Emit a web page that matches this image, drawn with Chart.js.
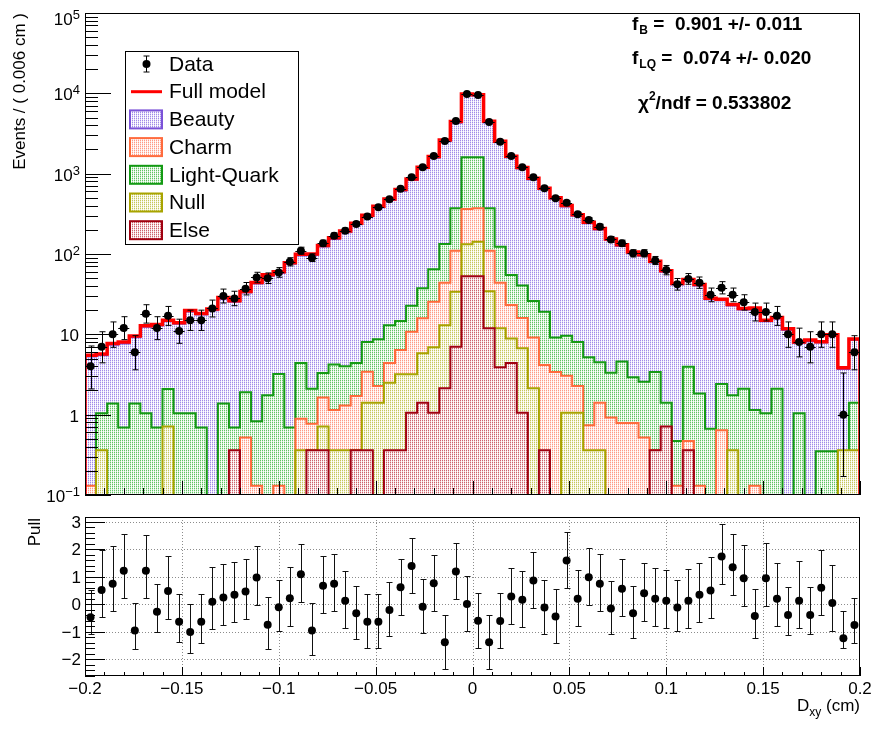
<!DOCTYPE html>
<html>
<head>
<meta charset="utf-8">
<script src="https://cdn.jsdelivr.net/npm/chart.js@4.4.1/dist/chart.umd.min.js"></script>
<style>
  html, body { margin: 0; padding: 0; background: #fff; }
  #wrap { position: relative; width: 874px; height: 734px; }
  #top { position: absolute; left: 0; top: 0; }
  #bot { position: absolute; left: 0; top: 505px; }
</style>
</head>
<body>
<div id="wrap">
  <canvas id="top" width="874" height="505"></canvas>
  <canvas id="bot" width="874" height="229"></canvas>
</div>
<script>
// binning of D_xy
var xMin = -0.2, xMax = 0.2, nBins = 70;

// observed events per bin
var dataCounts = [4, 7, 10, 12, 6, 18, 12, 17, 11, 15,
  15, 21, 30, 28, 37, 51, 50, 59, 80, 110,
  90, 136, 169, 195, 237, 292, 381, 480, 650, 901,
  1200, 1660, 2550, 4530, 9820, 9530, 4390, 2500, 1660, 1200,
  900, 657, 493, 435, 312, 265, 219, 152, 136, 102,
  102, 83, 63, 42, 49, 44, 31, 38, 31, 25,
  19, 19, 17, 10, 8, 7, 10, 10, 1, 6];
var dataErrLo = [1.91, 2.58, 3.11, 3.41, 2.38, 4.20, 3.41, 4.08, 3.27, 3.82,
  3.82, 4.55, 5.45, 5.26, 6.06, 7.12, 7.05, 7.66, 8.93, 10.5,
  9.48, 11.7, 13.0, 14.0, 15.4, 17.1, 19.5, 21.9, 25.5, 30.0,
  34.6, 40.7, 50.5, 67.3, 99.1, 97.6, 66.3, 50.0, 40.7, 34.6,
  30.0, 25.6, 22.2, 20.9, 17.7, 16.3, 14.8, 12.3, 11.7, 10.1,
  10.1, 9.10, 7.92, 6.46, 6.98, 6.61, 5.54, 6.14, 5.54, 4.97,
  4.32, 4.32, 4.08, 3.11, 2.76, 2.58, 3.11, 3.11, 0.83, 2.38];
var dataErrHi = [3.16, 3.77, 4.27, 4.58, 3.62, 5.36, 4.58, 5.24, 4.44, 4.99,
  4.99, 5.69, 6.58, 6.39, 7.17, 8.20, 8.13, 8.73, 9.98, 11.5,
  10.5, 12.7, 14.0, 15.0, 16.4, 18.1, 20.5, 22.9, 26.5, 31.0,
  35.6, 41.7, 51.5, 68.3, 100.1, 98.6, 67.3, 51.0, 41.7, 35.6,
  31.0, 26.6, 23.2, 21.9, 18.7, 17.3, 15.8, 13.3, 12.7, 11.1,
  11.1, 10.15, 8.98, 7.56, 8.06, 7.71, 6.67, 7.25, 6.67, 6.10,
  5.48, 5.48, 5.24, 4.27, 3.94, 3.77, 4.27, 4.27, 2.30, 3.62];

// fit model and its components
var modelVals = [5.5, 5.7, 7.7, 8.0, 9.5, 12.8, 13.3, 15.0, 13.9, 19.8,
  18.2, 20.6, 28.7, 26.2, 34.2, 44.2, 55, 60, 78, 99,
  100, 128, 159, 193, 242, 304, 394, 485, 634, 860,
  1203, 1630, 2620, 4450, 9820, 9590, 4480, 2530, 1650, 1195,
  875, 660, 503, 402, 308, 249, 208, 154, 130, 105.6,
  98, 81, 62, 43, 48, 41.8, 28.2, 27.4, 23.6, 21,
  21.3, 15, 16.2, 11.7, 8, 8.5, 8.1, 9.9, 3.85, 8.75];
var beautyVals = [5.3, 5.5, 7.4, 7.7, 9.2, 12.4, 12.9, 14.5, 13.5, 19.2,
  17.6, 20, 27.8, 25.4, 33.2, 42.9, 53.4, 58.2, 75.7, 96,
  97, 124, 154, 187, 235, 295, 382, 470, 615, 834,
  1167, 1581, 2541, 4316, 9525, 9302, 4346, 2454, 1600, 1159,
  849, 640, 488, 390, 299, 241.5, 202, 149.4, 126, 102.4,
  95, 78.6, 60.1, 41.7, 46.6, 40.5, 27.4, 26.6, 22.9, 20.4,
  20.7, 14.6, 15.7, 11.3, 7.8, 8.2, 7.9, 9.6, 3.7, 8.5];
var charmVals = [0.13, 0, 0, 0, 0, 0, 0, 0, 0, 0,
  0, 0, 0, 0, 0.52, 0.13, 0, 0.13, 0, 0.89,
  0.77, 1.63, 1.14, 1.3, 1.71, 3.43, 2.28, 4.4, 6.4, 10.8,
  15.9, 25.5, 44, 110, 363, 370, 110, 44, 23.2, 16,
  9.1, 4.15, 3.4, 3.06, 2.28, 0.74, 1.41, 0.92, 0.79, 0.79,
  0.52, 0.36, 0.36, 0.13, 0.47, 0.13, 0, 0.64, 0, 0,
  0.13, 0, 0, 0, 0, 0, 0, 0, 0, 0];
var lightQuarkVals = [0, 1.04, 1.38, 0.69, 1.38, 1.04, 0.69, 2.08, 1.04, 1.04,
  0.69, 0, 1.38, 0.69, 1.9, 0.83, 1.74, 3.2, 0.69, 4.4,
  2.1, 3.3, 4.2, 4.0, 4.4, 8.0, 8.7, 13, 14.7, 22.7,
  37.4, 64.6, 133, 371, 1600, 1600, 371, 123, 54.8, 40.4,
  26, 19.1, 9.1, 9.6, 8.0, 5.2, 4.5, 3.33, 4.6, 2.92,
  2.57, 3.4, 1.41, 0.47, 3.96, 1.84, 0.67, 2.41, 1.74, 2.1,
  1.14, 1.04, 2.1, 0, 1.04, 0, 0.35, 0.35, 0.35, 1.41];
var nullVals = [0, 0.36, 0, 0, 0, 0, 0, 0.71, 0, 0,
  0, 0, 0, 0, 0, 0, 0, 0, 0, 0.36,
  0.36, 0.71, 0.36, 0.36, 0.36, 1.41, 1.41, 2.5, 3.18, 3.18,
  5.8, 6.9, 13, 34, 132, 142, 34.5, 11.9, 8.9, 6.7,
  2.13, 0, 0, 1.06, 1.06, 0.36, 0.36, 0, 0, 0,
  0, 0, 0, 0, 0, 0, 0, 0, 0.36, 0,
  0, 0, 0, 0, 0, 0, 0, 0, 0.36, 0.36];
var elseVals = [0, 0, 0, 0, 0, 0, 0, 0, 0, 0,
  0, 0, 0, 0.36, 0, 0, 0, 0, 0, 0,
  0.36, 0.36, 0, 0, 0.36, 0.36, 0, 0.36, 0.36, 1.06,
  1.41, 1.06, 2.13, 7.0, 53, 53, 11.9, 3.9, 4.4, 1.06,
  0, 0.36, 0, 0, 0, 0, 0, 0, 0, 0,
  0, 0.36, 0.71, 0, 0.36, 0, 0, 0, 0, 0,
  0, 0, 0, 0, 0, 0, 0, 0, 0, 0];

// pull panel
var pullVals = [-0.47, 0.52, 0.74, 1.22, -0.96, 1.22, -0.27, 0.48, -0.64, -1.01,
  -0.64, 0.09, 0.24, 0.34, 0.46, 0.97, -0.75, -0.11, 0.22, 1.09,
  -0.96, 0.67, 0.74, 0.13, -0.33, -0.64, -0.64, -0.21, 0.62, 1.39,
  -0.09, 0.76, -1.38, 1.19, 0.01, -0.6, -1.38, -0.61, 0.28, 0.16,
  0.86, -0.12, -0.45, 1.59, 0.2, 0.98, 0.74, -0.16, 0.56, -0.33,
  0.4, 0.2, 0.13, -0.12, 0.13, 0.34, 0.5, 1.73, 1.34, 0.94,
  -0.43, 0.94, 0.2, -0.39, 0.13, -0.39, 0.6, 0.04, -1.24, -0.76];
var pullErrUp = [1, 1.46, 1.37, 1.34, 1, 1.28, 1, 1.28, 1, 1,
  1, 1.25, 1.21, 1.21, 1.18, 1.15, 1, 1, 1.12, 1.10,
  1, 1.09, 1.08, 1.07, 1, 1, 1, 1, 1.04, 1.03,
  1, 1.02, 1, 1.02, 1.01, 1, 1, 1, 1.02, 1.03,
  1.03, 1, 1, 1.05, 1.06, 1.06, 1.07, 1, 1.09, 1,
  1.10, 1.11, 1.13, 1, 1.15, 1.17, 1.20, 1.18, 1.20, 1.23,
  1, 1.27, 1.28, 1, 1.43, 1, 1.37, 1.37, 1, 1];
var pullErrDown = [0.60, 1, 1, 1, 0.66, 1, 0.74, 1, 0.74, 0.77,
  0.77, 1, 1, 1, 1, 1, 0.87, 0.88, 1, 1,
  0.90, 1, 1, 1, 0.94, 0.94, 0.95, 0.96, 1, 1,
  0.97, 1, 0.98, 1, 1, 0.99, 0.98, 0.98, 1, 1,
  1, 0.96, 0.96, 1, 1, 1, 1, 0.92, 1, 0.91,
  1, 1, 1, 0.86, 1, 1, 1, 1, 1, 1,
  0.79, 1, 1, 0.73, 1, 0.68, 1, 1, 0.36, 0.66];

// axis ticks and labels
var yDecades = [-1, 0, 1, 2, 3, 4, 5];
var xTickLabels = ['\u22120.2', '\u22120.15', '\u22120.1', '\u22120.05', '0', '0.05', '0.1', '0.15', '0.2'];
var xTickVals = [-0.2, -0.15, -0.1, -0.05, 0, 0.05, 0.1, 0.15, 0.2];
var pullTicks = [3, 2, 1, 0, -1, -2];
var pullTickLabels = ['3', '2', '1', '0', '\u22121', '\u22122'];

var FONT = '"Liberation Sans", Arial, Helvetica, sans-serif';
var FLOOR = 1e-4;
var binW = (xMax - xMin) / nBins;

function edge(i) { return xMin + i * binW; }

function histPoints(vals) {
  var pts = [{ x: xMin, y: FLOOR }];
  vals.forEach(function (v, i) {
    var y = v > 0 ? v : FLOOR;
    pts.push({ x: edge(i), y: y });
    pts.push({ x: edge(i + 1), y: y });
  });
  pts.push({ x: xMax, y: FLOOR });
  return pts;
}

function mix(c, t) {
  return 'rgb(' + c.map(function (v) { return Math.round(v + (255 - v) * t); }).join(',') + ')';
}

// ROOT-like dotted fill: same 2x2 grid for all, so the top one wins
function makePattern(c) {
  var p = document.createElement('canvas');
  p.width = 2; p.height = 2;
  var g = p.getContext('2d');
  g.fillStyle = '#fff'; g.fillRect(0, 0, 2, 2);
  g.fillStyle = mix(c, 0.3); g.fillRect(0, 0, 1, 1);
  g.fillStyle = mix(c, 0.75); g.fillRect(0, 1, 1, 1);
  g.fillStyle = mix(c, 0.93); g.fillRect(1, 0, 1, 1);
  return g.createPattern(p, 'repeat');
}

var comps = [
  { label: 'Beauty', vals: beautyVals, line: '#7b52d8', fill: [120, 88, 222] },
  { label: 'Charm', vals: charmVals, line: '#ff6b3d', fill: [255, 110, 80] },
  { label: 'Light-Quark', vals: lightQuarkVals, line: '#149a14', fill: [30, 170, 30] },
  { label: 'Null', vals: nullVals, line: '#a8a400', fill: [175, 175, 20] },
  { label: 'Else', vals: elseVals, line: '#a00010', fill: [185, 30, 45] }
];
comps.forEach(function (c) { c.pattern = makePattern(c.fill); });

// draw order: beauty (bottom), LQ, charm, null, else, model, data (top)
var drawOrder = { 'Beauty': 6, 'Light-Quark': 5, 'Charm': 4, 'Null': 3, 'Else': 2 };

var topDatasets = comps.map(function (c) {
  return {
    label: c.label, data: histPoints(c.vals), borderColor: c.line, borderWidth: 2,
    backgroundColor: c.pattern, fill: 'start', pointRadius: 0, tension: 0,
    order: drawOrder[c.label], clip: 0, borderJoinStyle: 'miter'
  };
});
topDatasets.push({
  label: 'Full model', data: histPoints(modelVals), borderColor: '#ff0000', borderWidth: 3.5,
  fill: false, pointRadius: 0, tension: 0, order: 1, clip: 0, borderJoinStyle: 'miter'
});
topDatasets.push({
  label: 'Data', data: dataCounts.map(function (v, i) { return { x: edge(i) + binW / 2, y: v }; }),
  showLine: false, pointRadius: 4, pointBackgroundColor: '#000', pointBorderWidth: 0, order: 0
});

function topOverlay(chart) {
  var ctx = chart.ctx, a = chart.chartArea, sx = chart.scales.x, sy = chart.scales.y;
  ctx.save();
  // data error bars
  ctx.strokeStyle = '#000'; ctx.lineWidth = 1;
  ctx.beginPath();
  dataCounts.forEach(function (v, i) {
    var xc = Math.round(sx.getPixelForValue(edge(i) + binW / 2)) + 0.5;
    var yc = sy.getPixelForValue(v);
    var lo = v - dataErrLo[i];
    var y0 = lo > 0.1 ? sy.getPixelForValue(lo) : a.bottom;
    var y1 = sy.getPixelForValue(v + dataErrHi[i]);
    ctx.moveTo(xc, y0); ctx.lineTo(xc, y1);
    if (lo > 0.1) { ctx.moveTo(xc - 3, y0); ctx.lineTo(xc + 3, y0); }
    ctx.moveTo(xc - 3, y1); ctx.lineTo(xc + 3, y1);
    var yh = Math.round(yc) + 0.5;
    ctx.moveTo(sx.getPixelForValue(edge(i)), yh); ctx.lineTo(sx.getPixelForValue(edge(i + 1)), yh);
  });
  ctx.stroke();

  // ticks
  ctx.beginPath();
  yDecades.forEach(function (d) {
    var yy = Math.round(sy.getPixelForValue(Math.pow(10, d))) + 0.5;
    ctx.moveTo(a.left, yy); ctx.lineTo(a.left + 26, yy);
    if (d < 5) {
      for (var m = 2; m <= 9; m++) {
        var ym = Math.round(sy.getPixelForValue(m * Math.pow(10, d))) + 0.5;
        ctx.moveTo(a.left, ym); ctx.lineTo(a.left + 13, ym);
      }
    }
  });
  for (var k = 0; k <= 40; k++) {
    var xx = Math.round(sx.getPixelForValue(xMin + k * 0.01)) + 0.5;
    ctx.moveTo(xx, a.bottom); ctx.lineTo(xx, a.bottom - (k % 5 === 0 ? 14 : 7));
  }
  ctx.stroke();
  ctx.strokeRect(a.left + 0.5, a.top + 0.5, a.right - a.left - 1, a.bottom - a.top - 1);

  // y labels
  ctx.fillStyle = '#000';
  ctx.textAlign = 'left';
  ctx.textBaseline = 'alphabetic';
  yDecades.forEach(function (d) {
    var yy = sy.getPixelForValue(Math.pow(10, d)) + (d === 5 ? 5 : 0);
    var base = d === 0 ? '1' : '10';
    var sup = (d === 0 || d === 1) ? '' : (d < 0 ? '\u2212' + (-d) : String(d));
    ctx.font = '17px ' + FONT;
    var bw = ctx.measureText(base).width;
    ctx.font = '13px ' + FONT;
    var sw = sup ? ctx.measureText(sup).width : 0;
    var right = sup ? 80 : 79;
    ctx.font = '17px ' + FONT;
    ctx.fillText(base, right - sw - bw, yy + 7);
    if (sup) { ctx.font = '13px ' + FONT; ctx.fillText(sup, right - sw, yy + 1); }
  });

  // y title
  ctx.save();
  ctx.translate(20, a.top);
  ctx.rotate(-Math.PI / 2);
  ctx.font = '17px ' + FONT;
  ctx.textAlign = 'right';
  ctx.textBaseline = 'middle';
  ctx.fillText('Events / ( 0.006 cm )', 0, 0);
  ctx.restore();

  // fit results
  ctx.font = 'bold 19px ' + FONT;
  ctx.textAlign = 'left';
  var tx = 632;
  ctx.fillText('f', tx, 30);
  var fw = ctx.measureText('f').width;
  ctx.font = 'bold 12px ' + FONT;
  ctx.fillText('B', tx + fw + 1, 34);
  var bw2 = ctx.measureText('B').width;
  ctx.font = 'bold 19px ' + FONT;
  ctx.fillText(' =  0.901 +/- 0.011', tx + fw + bw2 + 1, 30);

  ctx.fillText('f', tx, 64);
  ctx.font = 'bold 12px ' + FONT;
  ctx.fillText('LQ', tx + fw + 1, 68);
  var lqw = ctx.measureText('LQ').width;
  ctx.font = 'bold 19px ' + FONT;
  ctx.fillText(' =  0.074 +/- 0.020', tx + fw + lqw + 1, 64);

  ctx.fillText('\u03c7', 638, 109);
  var cw = ctx.measureText('\u03c7').width;
  ctx.font = 'bold 12px ' + FONT;
  ctx.fillText('2', 638 + cw, 100);
  var tw = ctx.measureText('2').width;
  ctx.font = 'bold 19px ' + FONT;
  ctx.fillText('/ndf = 0.533802', 638 + cw + tw, 109);

  // legend
  var lx = 125, ly = 51, lw = 174, lh = 194;
  ctx.fillStyle = '#fff';
  ctx.fillRect(lx, ly, lw, lh);
  ctx.strokeStyle = '#000'; ctx.lineWidth = 1;
  ctx.strokeRect(lx + 0.5, ly + 0.5, lw - 1, lh - 1);
  var rows = ['Data', 'Full model'].concat(comps.map(function (c) { return c.label; }));
  ctx.font = '21px ' + FONT;
  ctx.textBaseline = 'middle';
  rows.forEach(function (name, r) {
    var cy = 64 + r * 27.7;
    ctx.fillStyle = '#000';
    ctx.fillText(name, 169, cy + 1);
    if (name === 'Data') {
      ctx.beginPath();
      ctx.moveTo(146.5, cy - 8); ctx.lineTo(146.5, cy + 8);
      ctx.moveTo(143.5, cy - 8); ctx.lineTo(149.5, cy - 8);
      ctx.moveTo(143.5, cy + 8); ctx.lineTo(149.5, cy + 8);
      ctx.stroke();
      ctx.beginPath(); ctx.arc(146.5, cy, 4, 0, 2 * Math.PI); ctx.fill();
    } else if (name === 'Full model') {
      ctx.strokeStyle = '#ff0000'; ctx.lineWidth = 3;
      ctx.beginPath(); ctx.moveTo(131, cy); ctx.lineTo(162, cy); ctx.stroke();
      ctx.strokeStyle = '#000'; ctx.lineWidth = 1;
    } else {
      var c = comps[r - 2];
      ctx.fillStyle = c.pattern;
      ctx.fillRect(130, cy - 9, 32, 18);
      ctx.strokeStyle = c.line; ctx.lineWidth = 2;
      ctx.strokeRect(130, cy - 9, 32, 18);
      ctx.strokeStyle = '#000'; ctx.lineWidth = 1;
    }
  });
  ctx.restore();
}

var topChart = new Chart(document.getElementById('top'), {
  type: 'line',
  data: { datasets: topDatasets },
  options: {
    responsive: false, animation: false, devicePixelRatio: 1, events: [],
    parsing: false,
    layout: { padding: { left: 85, right: 14, top: 13, bottom: 10 } },
    scales: {
      x: { type: 'linear', min: xMin, max: xMax, display: false },
      y: { type: 'logarithmic', min: 0.1, max: 1e5, display: false }
    },
    plugins: { legend: { display: false }, tooltip: { enabled: false } }
  },
  plugins: [{ id: 'rootTop', afterDatasetsDraw: topOverlay }]
});

// ---- pull panel ----
function pullGrid(chart) {
  var ctx = chart.ctx, a = chart.chartArea, sx = chart.scales.x, sy = chart.scales.y;
  ctx.save();
  ctx.strokeStyle = '#8c8c8c'; ctx.lineWidth = 1;
  ctx.setLineDash([1, 2]);
  ctx.beginPath();
  xTickVals.slice(1, -1).forEach(function (v) {
    var xx = Math.round(sx.getPixelForValue(v)) + 0.5;
    ctx.moveTo(xx, a.top); ctx.lineTo(xx, a.bottom);
  });
  pullTicks.forEach(function (v) {
    var yy = Math.round(sy.getPixelForValue(v)) + 0.5;
    ctx.moveTo(a.left, yy); ctx.lineTo(a.right, yy);
  });
  ctx.stroke();
  ctx.setLineDash([]);
  // error bars
  ctx.strokeStyle = '#111';
  ctx.beginPath();
  pullVals.forEach(function (v, i) {
    var xc = Math.round(sx.getPixelForValue(edge(i) + binW / 2)) + 0.5;
    var y0 = Math.round(sy.getPixelForValue(v - pullErrDown[i])) + 0.5;
    var y1 = Math.round(sy.getPixelForValue(v + pullErrUp[i])) + 0.5;
    ctx.moveTo(xc, y0); ctx.lineTo(xc, y1);
    ctx.moveTo(xc - 3, y0); ctx.lineTo(xc + 3, y0);
    ctx.moveTo(xc - 3, y1); ctx.lineTo(xc + 3, y1);
  });
  ctx.stroke();
  ctx.restore();
}

function pullAxes(chart) {
  var ctx = chart.ctx, a = chart.chartArea, sx = chart.scales.x, sy = chart.scales.y;
  ctx.save();
  ctx.strokeStyle = '#000'; ctx.lineWidth = 1;
  ctx.beginPath();
  for (var k = -13; k <= 15; k++) {
    var v = k * 0.2;
    var yy = Math.round(sy.getPixelForValue(v)) + 0.5;
    ctx.moveTo(a.left, yy); ctx.lineTo(a.left + (k % 5 === 0 ? 20 : 10), yy);
  }
  for (var j = 0; j <= 40; j++) {
    var xx = Math.round(sx.getPixelForValue(xMin + j * 0.01)) + 0.5;
    ctx.moveTo(xx, a.bottom); ctx.lineTo(xx, a.bottom - (j % 5 === 0 ? 9 : 4));
  }
  ctx.stroke();
  ctx.strokeRect(a.left + 0.5, a.top + 0.5, a.right - a.left - 1, a.bottom - a.top - 1);

  ctx.fillStyle = '#000';
  ctx.font = '17px ' + FONT;
  ctx.textBaseline = 'alphabetic';
  ctx.textAlign = 'right';
  pullTicks.forEach(function (v, i) {
    ctx.fillText(pullTickLabels[i], 81, sy.getPixelForValue(v) + 6);
  });
  ctx.textAlign = 'center';
  xTickVals.forEach(function (v, i) {
    ctx.fillText(xTickLabels[i], sx.getPixelForValue(v), a.bottom + 18);
  });

  // x title D_xy (cm)
  var rest = ' (cm)';
  var rw = ctx.measureText(rest).width;
  var dw = ctx.measureText('D').width;
  ctx.font = '12px ' + FONT;
  var sw = ctx.measureText('xy').width;
  var x0 = a.right - rw - sw - dw;
  ctx.textAlign = 'left';
  ctx.font = '17px ' + FONT;
  ctx.fillText('D', x0, a.bottom + 35);
  ctx.font = '12px ' + FONT;
  ctx.fillText('xy', x0 + dw, a.bottom + 40);
  ctx.font = '17px ' + FONT;
  ctx.fillText(rest, x0 + dw + sw, a.bottom + 35);

  // y title
  ctx.translate(35, a.top + 1);
  ctx.rotate(-Math.PI / 2);
  ctx.textAlign = 'right';
  ctx.textBaseline = 'middle';
  ctx.fillText('Pull', 0, 0);
  ctx.restore();
}

var pullChart = new Chart(document.getElementById('bot'), {
  type: 'line',
  data: {
    datasets: [{
      label: 'Pull',
      data: pullVals.map(function (v, i) { return { x: edge(i) + binW / 2, y: v }; }),
      showLine: false, pointRadius: 4, pointBackgroundColor: '#000', pointBorderWidth: 0
    }]
  },
  options: {
    responsive: false, animation: false, devicePixelRatio: 1, events: [],
    parsing: false,
    layout: { padding: { left: 85, right: 14, top: 12, bottom: 58 } },
    scales: {
      x: { type: 'linear', min: xMin, max: xMax, display: false },
      y: { type: 'linear', min: -2.61, max: 3.17, display: false }
    },
    plugins: { legend: { display: false }, tooltip: { enabled: false } }
  },
  plugins: [{ id: 'pullGrid', beforeDatasetsDraw: pullGrid, afterDatasetsDraw: pullAxes }]
});
</script>
</body>
</html>
